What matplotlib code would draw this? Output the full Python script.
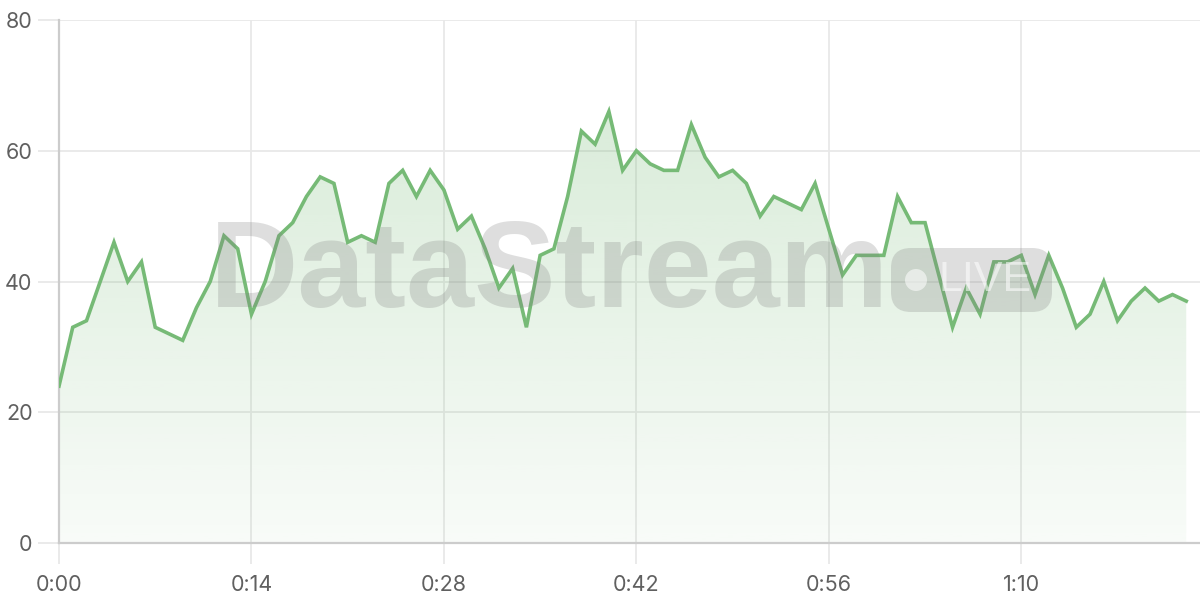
import numpy as np
import matplotlib
matplotlib.use('Agg')
import matplotlib.pyplot as plt
from matplotlib.patches import FancyBboxPatch, Circle
from matplotlib.transforms import IdentityTransform
from matplotlib.ticker import FuncFormatter

## data: one reading per second
seconds = list(range(83))
values = [24, 33, 34, 40, 46, 40, 43, 33, 32, 31,
          36, 40, 47, 45, 35, 40, 47, 49, 53, 56,
          55, 46, 47, 46, 55, 57, 53, 57, 54, 48,
          50, 45, 39, 42, 33, 44, 45, 53, 63, 61,
          66, 57, 60, 58, 57, 57, 64, 59, 56, 57,
          55, 50, 53, 52, 51, 55, 48, 41, 44, 44,
          44, 53, 49, 49, 41, 33, 39, 35, 43, 43,
          44, 38, 44, 39, 33, 35, 40, 34, 37, 39,
          37, 38, 37]
xticks = [0, 14, 28, 42, 56, 70]
yticks = [0, 20, 40, 60, 80]

line_col = '#76ba76'
grid_col = '#e8e8e8'
axis_col = '#cccccc'
text_col = '#606060'

plt.rcParams['font.family'] = ['Inter', 'DejaVu Sans']

fig = plt.figure(figsize=(12, 6), dpi=100)
W, H = 1200.0, 600.0
ax = fig.add_axes([59/W, 57/H, (1200-59)/W, (543-20)/H])

ax.set_xlim(0, 83)
ax.set_ylim(0, 80)

# gradient fill under the line
grad = np.zeros((256, 1, 4))
rgb = matplotlib.colors.to_rgb(line_col)
grad[:, 0, 0] = rgb[0]
grad[:, 0, 1] = rgb[1]
grad[:, 0, 2] = rgb[2]
grad[:, 0, 3] = np.linspace(0.32, 0.05, 256)
poly = ax.fill_between(seconds, values, 0, color='none', lw=0)
img = ax.imshow(grad, extent=[0, seconds[-1], 0, 80], aspect='auto',
                origin='upper', zorder=1)
img.set_clip_path(poly.get_paths()[0], transform=ax.transData)

ax.plot(seconds, values, color=line_col, lw=2.6, zorder=5,
        solid_joinstyle='miter')

# watermark (pixel coords, y measured from the top)
wm = (0.5, 0.5, 0.5, 0.26)
px = IdentityTransform()
fig.text(550/W, 1 - 275/H, 'DataStream', fontsize=88, fontweight='bold',
         family='Liberation Sans', color=wm, ha='center', va='center', zorder=3)
badge = FancyBboxPatch((891, H - 312), 161, 64,
                       boxstyle='round,pad=0,rounding_size=20',
                       transform=px, fc=wm, ec='none', zorder=3)
fig.patches.append(badge)
fig.text(985/W, 1 - 280/H, 'LIVE', fontsize=31, family='Liberation Sans',
         color=(1, 1, 1, 0.55), ha='center', va='center', zorder=4)
dot = Circle((916, H - 280), 11, transform=px,
             fc=(1, 1, 1, 0.55), ec='none', zorder=4)
fig.patches.append(dot)

# axes styling
ax.set_xticks(xticks)
ax.set_yticks(yticks)
ax.xaxis.set_major_formatter(FuncFormatter(lambda s, p: '%d:%02d' % (s // 60, s % 60)))
ax.grid(True, color=grid_col, lw=1.3, zorder=0)
ax.set_axisbelow(True)
for s in ['top', 'right']:
    ax.spines[s].set_visible(False)
for s in ['left', 'bottom']:
    ax.spines[s].set_color(axis_col)
    ax.spines[s].set_linewidth(1.6)
ax.tick_params(axis='both', length=15, width=1.3, color=grid_col,
               labelcolor=text_col, labelsize=15.5, pad=4)
ax.tick_params(axis='x', pad=8)

fig.savefig('out.png', dpi=100)
